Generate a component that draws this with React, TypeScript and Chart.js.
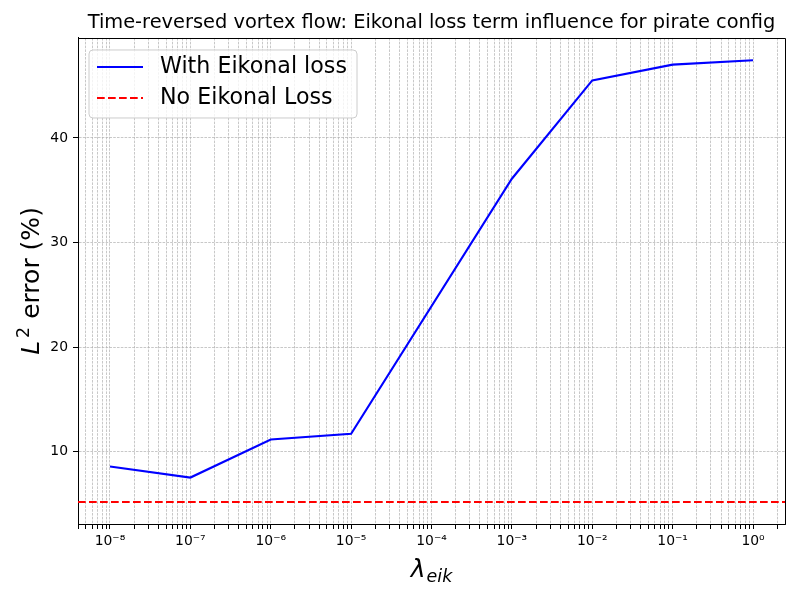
import { useEffect, useRef } from "react";
import { Chart, registerables } from "chart.js";

Chart.register(...registerables);

// ---- data ----
const LAMBDA_VALUES = [1e-8, 1e-7, 1e-6, 1e-5, 1e-3, 1e-2, 1e-1, 1e0];
const WITH_EIKONAL = [8.6, 7.54, 11.18, 11.72, 36.1, 45.5, 47.0, 47.42];
const NO_EIKONAL = 5.2;
const X_MIN = 4e-9;
const X_MAX = 2.5;
const Y_MIN = 3.1;
const Y_MAX = 49.55;
const Y_TICKS = [10, 20, 30, 40];
const SERIES_LABELS = ["With Eikonal loss", "No Eikonal Loss"];
const TITLE = "Time-reversed vortex flow: Eikonal loss term influence for pirate config";

const FONT = "'DejaVu Sans', sans-serif";
const SUP: Record<string, string> = {
  "-": "\u207B", "0": "\u2070", "1": "\u00B9", "2": "\u00B2", "3": "\u00B3",
  "4": "\u2074", "5": "\u2075", "6": "\u2076", "7": "\u2077", "8": "\u2078", "9": "\u2079",
};
const supStr = (s: string) => s.split("").map((c) => SUP[c] ?? c).join("");

const overlayPlugin = {
  id: "overlay",
  afterDraw(chart: any) {
    const { ctx, chartArea } = chart;
    const { left, right, top, bottom } = chartArea;
    ctx.save();
    // frame (top and right spines)
    ctx.strokeStyle = "#000";
    ctx.lineWidth = 1;
    ctx.beginPath();
    ctx.moveTo(Math.round(left) + 0.5, Math.round(top) + 0.5);
    ctx.lineTo(Math.round(right) + 0.5, Math.round(top) + 0.5);
    ctx.lineTo(Math.round(right) + 0.5, Math.round(bottom) + 0.5);
    ctx.stroke();

    // legend box
    const lx = left + 11, ly = top + 12, lw = 268, lh = 68, r = 4;
    ctx.beginPath();
    ctx.moveTo(lx + r, ly);
    ctx.lineTo(lx + lw - r, ly);
    ctx.quadraticCurveTo(lx + lw, ly, lx + lw, ly + r);
    ctx.lineTo(lx + lw, ly + lh - r);
    ctx.quadraticCurveTo(lx + lw, ly + lh, lx + lw - r, ly + lh);
    ctx.lineTo(lx + r, ly + lh);
    ctx.quadraticCurveTo(lx, ly + lh, lx, ly + lh - r);
    ctx.lineTo(lx, ly + r);
    ctx.quadraticCurveTo(lx, ly, lx + r, ly);
    ctx.closePath();
    ctx.fillStyle = "rgba(255,255,255,0.8)";
    ctx.fill();
    ctx.strokeStyle = "#cccccc";
    ctx.lineWidth = 1;
    ctx.stroke();

    const dsets = chart.data.datasets;
    const rows = [top + 29, top + 60];
    rows.forEach((yy: number, i: number) => {
      const ds = dsets[i];
      ctx.strokeStyle = ds.borderColor;
      ctx.lineWidth = ds.borderWidth;
      ctx.setLineDash(ds.borderDash || []);
      ctx.beginPath();
      ctx.moveTo(left + 19, yy);
      ctx.lineTo(left + 65, yy);
      ctx.stroke();
      ctx.setLineDash([]);
      ctx.fillStyle = "#000";
      ctx.font = `22.2px ${FONT}`;
      ctx.textBaseline = "middle";
      ctx.textAlign = "left";
      ctx.fillText(ds.label, left + 82, yy);
    });

    // x-axis title: lambda_eik
    const cx = (left + right) / 2;
    const bigF = 25;
    const smallF = 17.5;
    ctx.textBaseline = "alphabetic";
    ctx.textAlign = "left";
    ctx.font = `oblique ${bigF}px ${FONT}`;
    const wL = ctx.measureText("\u03BB").width;
    ctx.font = `oblique ${smallF}px ${FONT}`;
    const wS = ctx.measureText("eik").width;
    const total = wL + wS + 1;
    const bx = cx - total / 2;
    const by = 577;
    ctx.font = `oblique ${bigF}px ${FONT}`;
    ctx.fillText("\u03BB", bx, by);
    ctx.font = `oblique ${smallF}px ${FONT}`;
    ctx.fillText("eik", bx + wL + 1, by + 5);

    // y-axis title: L^2 error (%)
    const cy = (top + bottom) / 2;
    ctx.save();
    ctx.translate(39, cy);
    ctx.rotate(-Math.PI / 2);
    ctx.font = `oblique ${bigF}px ${FONT}`;
    const w1 = ctx.measureText("L").width;
    ctx.font = `${smallF}px ${FONT}`;
    const w2 = ctx.measureText("2").width;
    ctx.font = `${bigF}px ${FONT}`;
    const w3 = ctx.measureText(" error (%)").width;
    const tot = w1 + 3 + w2 + w3;
    let px = -tot / 2;
    ctx.font = `oblique ${bigF}px ${FONT}`;
    ctx.fillText("L", px, 0);
    px += w1 + 3;
    ctx.font = `${smallF}px ${FONT}`;
    ctx.fillText("2", px, -10);
    px += w2;
    ctx.font = `${bigF}px ${FONT}`;
    ctx.fillText(" error (%)", px, 0);
    ctx.restore();

    ctx.restore();
  },
};

export default function App() {
  const ref = useRef<HTMLCanvasElement | null>(null);

  useEffect(() => {
    document.body.style.margin = "0";
    const canvas = ref.current;
    if (!canvas) return;

    const xTicks: { value: number; major: boolean }[] = [];
    for (let e = -9; e <= 0; e++) {
      for (let m = 1; m <= 9; m++) {
        const v = m * Math.pow(10, e);
        if (v >= X_MIN && v <= X_MAX) xTicks.push({ value: v, major: m === 1 });
      }
    }

    const chart = new Chart(canvas, {
      type: "line",
      data: {
        datasets: [
          {
            label: SERIES_LABELS[0],
            data: LAMBDA_VALUES.map((x, i) => ({ x, y: WITH_EIKONAL[i] })),
            borderColor: "#0000ff",
            borderWidth: 2.1,
            pointRadius: 0,
            fill: false,
            tension: 0,
          },
          {
            label: SERIES_LABELS[1],
            data: [
              { x: X_MIN, y: NO_EIKONAL },
              { x: X_MAX, y: NO_EIKONAL },
            ],
            borderColor: "#ff0000",
            borderWidth: 2.1,
            borderDash: [7.7, 3.3],
            pointRadius: 0,
            fill: false,
            tension: 0,
          },
        ],
      },
      options: {
        animation: false,
        responsive: false,
        maintainAspectRatio: false,
        layout: { padding: { left: 0, right: 15, top: 0, bottom: 0 } },
        plugins: {
          legend: { display: false },
          tooltip: { enabled: false },
          title: {
            display: true,
            fullSize: false,
            text: TITLE,
            color: "#000",
            font: { family: FONT, size: 19.4, weight: "normal" },
            padding: { top: 11.3, bottom: 3.4 },
          },
        },
        scales: {
          x: {
            type: "logarithmic",
            min: X_MIN,
            max: X_MAX,
            afterBuildTicks: (scale: any) => {
              scale.ticks = xTicks.map((t) => ({ ...t }));
            },
            afterFit: (scale: any) => {
              scale.height = 76;
            },
            ticks: {
              autoSkip: false,
              maxRotation: 0,
              minRotation: 0,
              color: "#000",
              padding: 4,
              font: { family: FONT, size: 13.9 },
              callback: (value: any) => {
                const v = Number(value);
                const e = Math.round(Math.log10(v));
                if (Math.abs(v - Math.pow(10, e)) / Math.pow(10, e) < 1e-6) {
                  return "10" + supStr(String(e));
                }
                return "";
              },
            },
            grid: {
              color: "#b0b0b0",
              lineWidth: 0.7,
              tickLength: 5,
              tickColor: "#000",
              tickWidth: 1,
            },
            border: { display: true, color: "#000", width: 1, dash: [2.6, 1.2] },
          },
          y: {
            type: "linear",
            min: Y_MIN,
            max: Y_MAX,
            afterBuildTicks: (scale: any) => {
              scale.ticks = Y_TICKS.map((v) => ({ value: v }));
            },
            afterFit: (scale: any) => {
              scale.width = 78;
            },
            ticks: {
              color: "#000",
              padding: 5,
              font: { family: FONT, size: 13.9 },
              callback: (value: any) => String(value),
            },
            grid: {
              color: "#b0b0b0",
              lineWidth: 0.7,
              tickLength: 5,
              tickColor: "#000",
              tickWidth: 1,
            },
            border: { display: true, color: "#000", width: 1, dash: [2.6, 1.2] },
          },
        },
      },
      plugins: [overlayPlugin],
    } as any);

    return () => chart.destroy();
  }, []);

  return <canvas ref={ref} width={800} height={600} style={{ display: "block", width: 800, height: 600 }} />;
}
